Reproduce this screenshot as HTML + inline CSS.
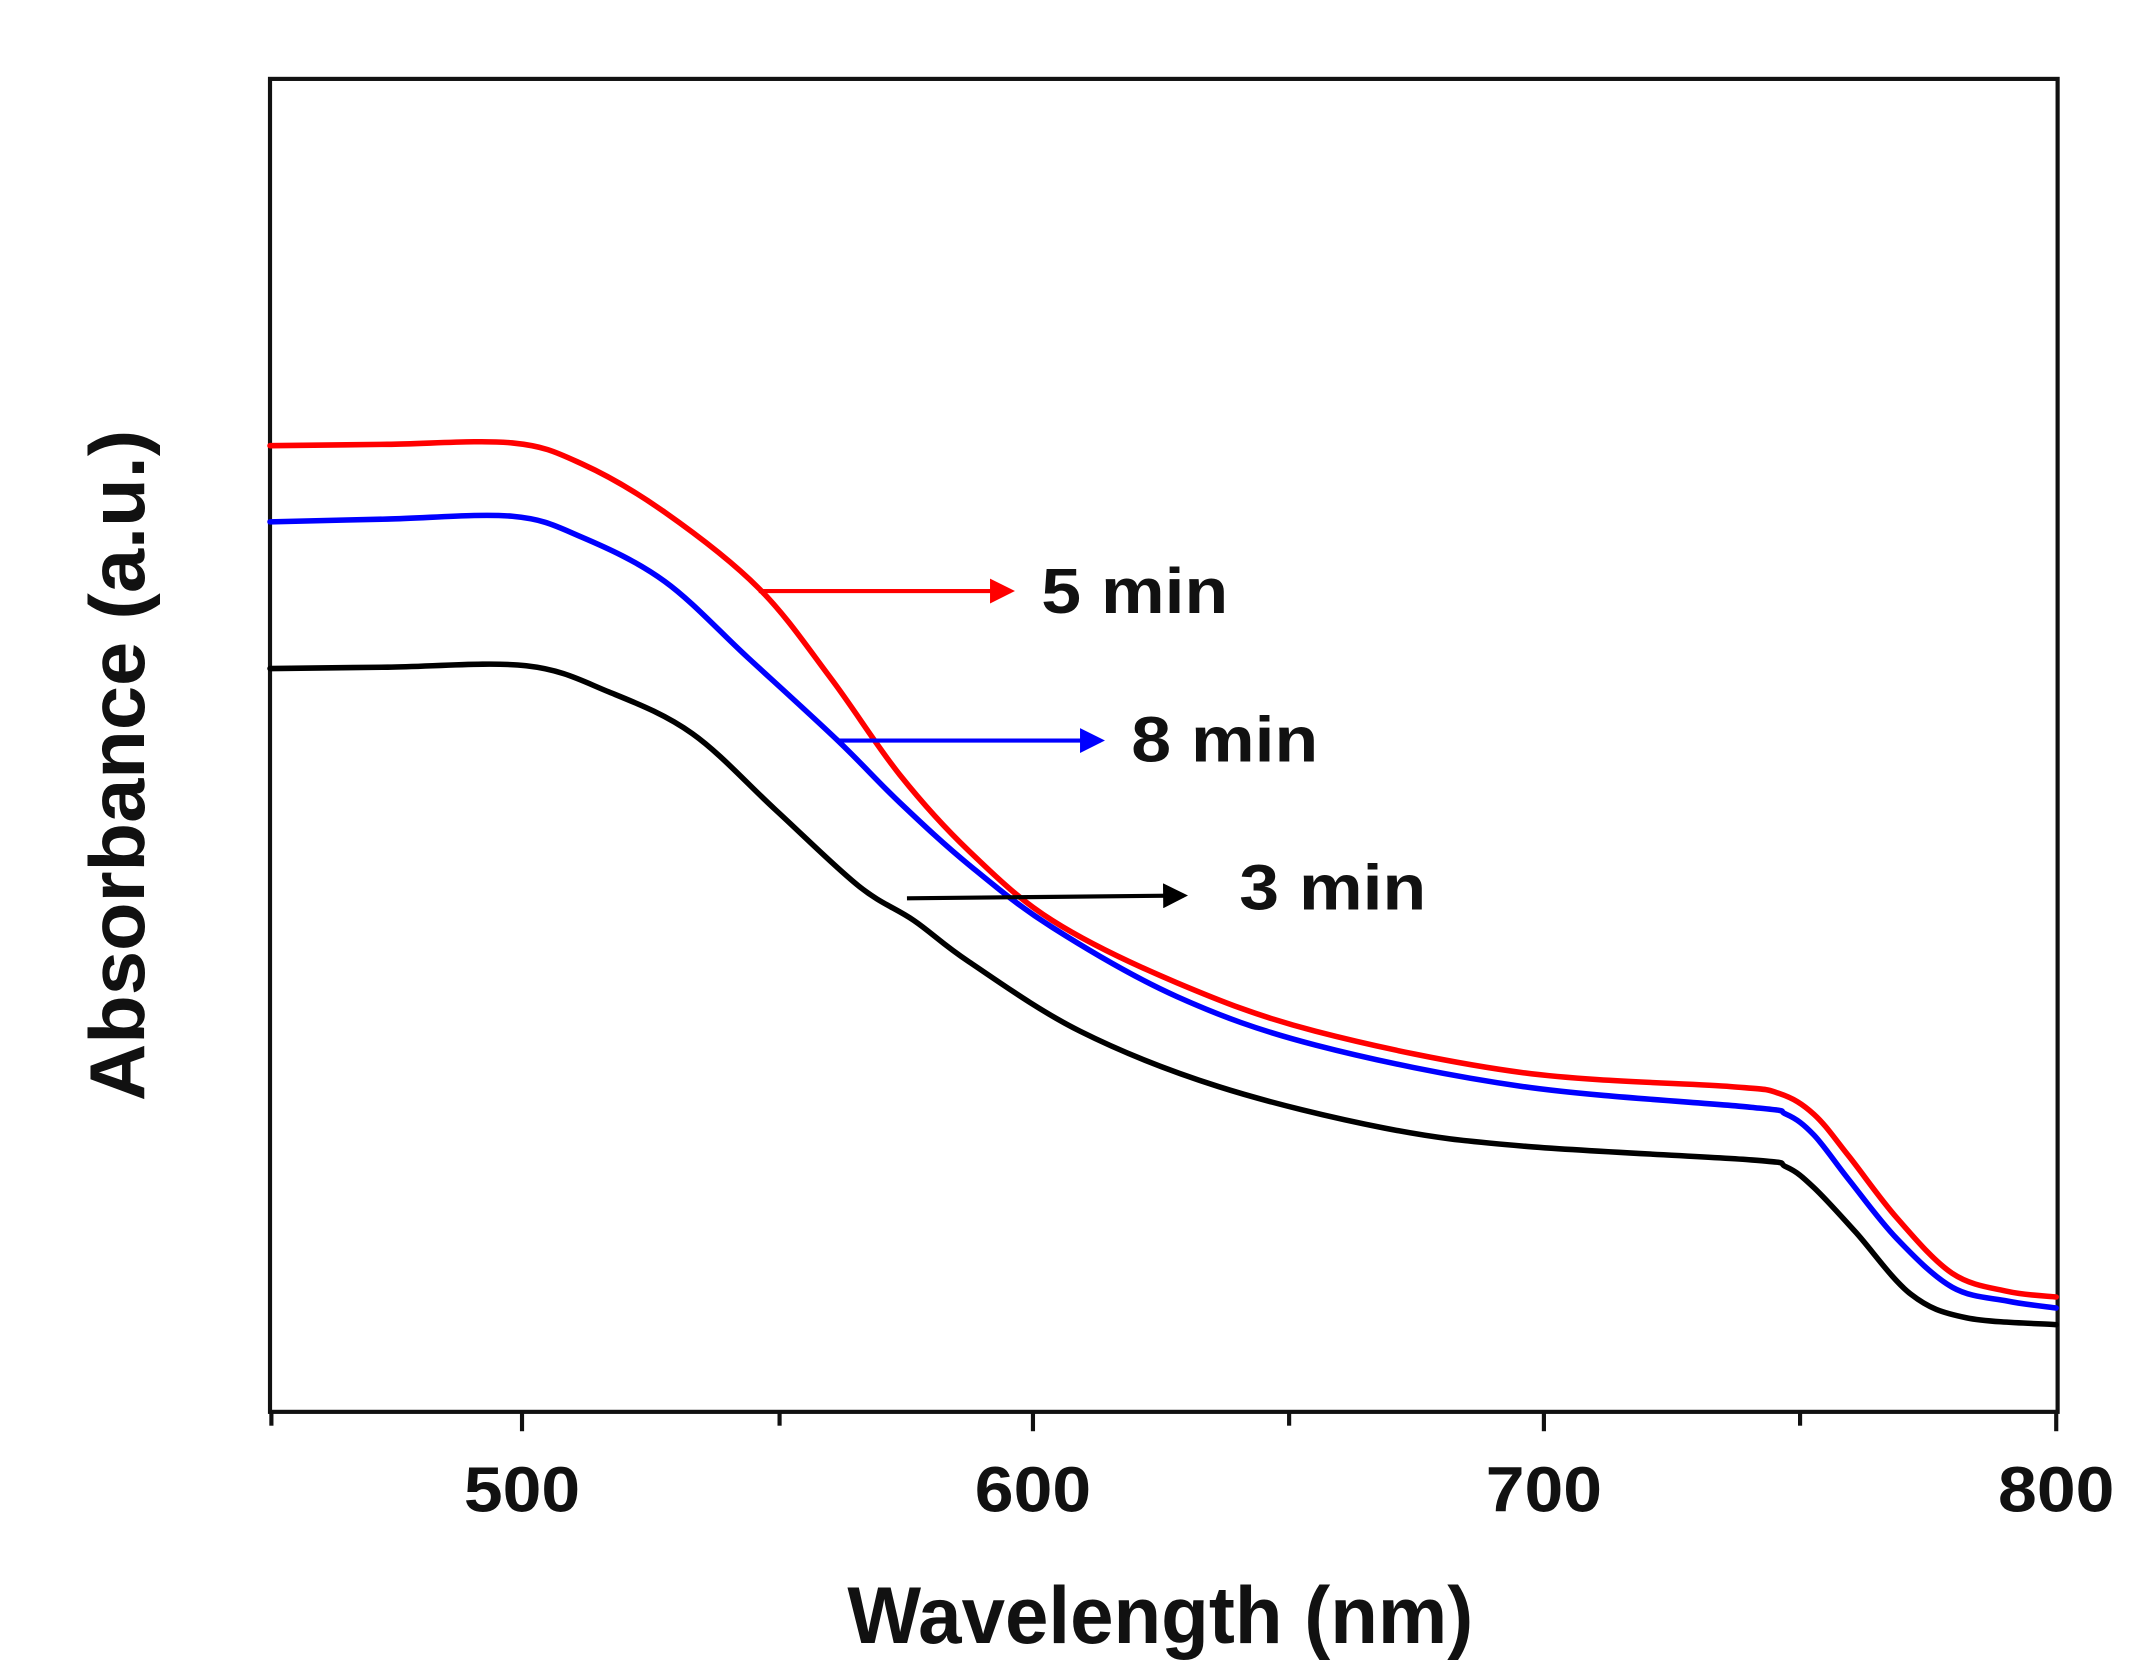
<!DOCTYPE html>
<html><head><meta charset="utf-8"><style>html,body{margin:0;padding:0;background:#fff}svg{display:block}</style></head>
<body>
<svg id="s" width="2149" height="1679" viewBox="0 0 1552 1213" preserveAspectRatio="none" xmlns="http://www.w3.org/2000/svg" font-family="Liberation Sans, Arial, sans-serif" font-weight="bold">
<defs>
<marker id="ar" markerWidth="6" markerHeight="6" refX="5" refY="3" orient="auto" markerUnits="strokeWidth"><path d="M0,0 L6,3 L0,6 z" fill="red"/></marker>
<marker id="ab" markerWidth="6" markerHeight="6" refX="5" refY="3" orient="auto" markerUnits="strokeWidth"><path d="M0,0 L6,3 L0,6 z" fill="blue"/></marker>
<marker id="ak" markerWidth="6" markerHeight="6" refX="5" refY="3" orient="auto" markerUnits="strokeWidth"><path d="M0,0 L6,3 L0,6 z" fill="black"/></marker>
</defs>
<rect x="195" y="57" width="1291" height="963" fill="none" stroke="#111" stroke-width="3"/>
<g stroke="#111" stroke-width="3">
<line x1="196" y1="1020" x2="196" y2="1030"/><line x1="377" y1="1020" x2="377" y2="1034"/>
<line x1="563" y1="1020" x2="563" y2="1030"/><line x1="746" y1="1020" x2="746" y2="1034"/>
<line x1="931" y1="1020" x2="931" y2="1030"/><line x1="1115" y1="1020" x2="1115" y2="1034"/>
<line x1="1300" y1="1020" x2="1300" y2="1030"/><line x1="1485" y1="1020" x2="1485" y2="1034"/>
</g>
<g font-size="46" text-anchor="middle" fill="#111">
<text x="377" y="1092" textLength="84" lengthAdjust="spacingAndGlyphs">500</text><text x="746" y="1092" textLength="84" lengthAdjust="spacingAndGlyphs">600</text><text x="1115" y="1092" textLength="84" lengthAdjust="spacingAndGlyphs">700</text><text x="1485" y="1092" textLength="84" lengthAdjust="spacingAndGlyphs">800</text>
</g>
<text x="838" y="1187" font-size="58" text-anchor="middle" fill="#111" textLength="452" lengthAdjust="spacingAndGlyphs">Wavelength (nm)</text>
<text transform="translate(104,553) rotate(-90)" font-size="56" text-anchor="middle" fill="#111" textLength="485" lengthAdjust="spacingAndGlyphs">Absorbance (a.u.)</text>
<g fill="none" stroke-width="4" stroke-linejoin="round" stroke-linecap="round">
<path id="pr" stroke="red"/>
<path id="pb" stroke="blue"/>
<path id="pk" stroke="black"/>
</g>
<line x1="548" y1="427" x2="730" y2="427" stroke="red" stroke-width="3" marker-end="url(#ar)"/>
<line x1="605" y1="535" x2="795" y2="535" stroke="blue" stroke-width="3" marker-end="url(#ab)"/>
<line x1="655" y1="649" x2="855" y2="647" stroke="black" stroke-width="3" marker-end="url(#ak)"/>
<g font-size="46" fill="#111">
<text x="752" y="443" textLength="135" lengthAdjust="spacingAndGlyphs">5 min</text><text x="817" y="550" textLength="135" lengthAdjust="spacingAndGlyphs">8 min</text><text x="895" y="657" textLength="135" lengthAdjust="spacingAndGlyphs">3 min</text>
</g>
</svg>
<script>
function sm(p){var d="M"+p[0][0]+","+p[0][1];for(var i=0;i<p.length-1;i++){var a=p[i-1]||p[i],b=p[i],c=p[i+1],e=p[i+2]||c;d+=" C"+(b[0]+(c[0]-a[0])/6)+","+(b[1]+(c[1]-a[1])/6)+" "+(c[0]-(e[0]-b[0])/6)+","+(c[1]-(e[1]-b[1])/6)+" "+c[0]+","+c[1];}return d;}
var R=[[195,322],[280,321],[370,320],[420,335],[480,370],[548,425],[600,490],[650,560],[700,615],[760,665],[850,710],[950,745],[1100,775],[1250,785],[1285,790],[1310,805],[1335,835],[1370,880],[1410,920],[1450,933],[1485,937]];
var B=[[195,377],[280,375],[370,373],[420,388],[480,420],[540,475],[605,535],[650,580],[700,625],[760,670],[850,720],[950,755],[1100,785],[1265,800],[1290,805],[1310,820],[1335,852],[1370,895],[1410,930],[1450,940],[1485,945]];
var K=[[195,483],[280,482],[380,481],[440,500],[500,530],[560,585],[620,640],[660,665],[700,695],[780,745],[880,785],[1000,815],[1100,828],[1265,838],[1290,843],[1310,858],[1340,890],[1380,935],[1420,952],[1485,957]];
document.getElementById("pr").setAttribute("d",sm(R));
document.getElementById("pb").setAttribute("d",sm(B));
document.getElementById("pk").setAttribute("d",sm(K));
</script>
</body></html>
